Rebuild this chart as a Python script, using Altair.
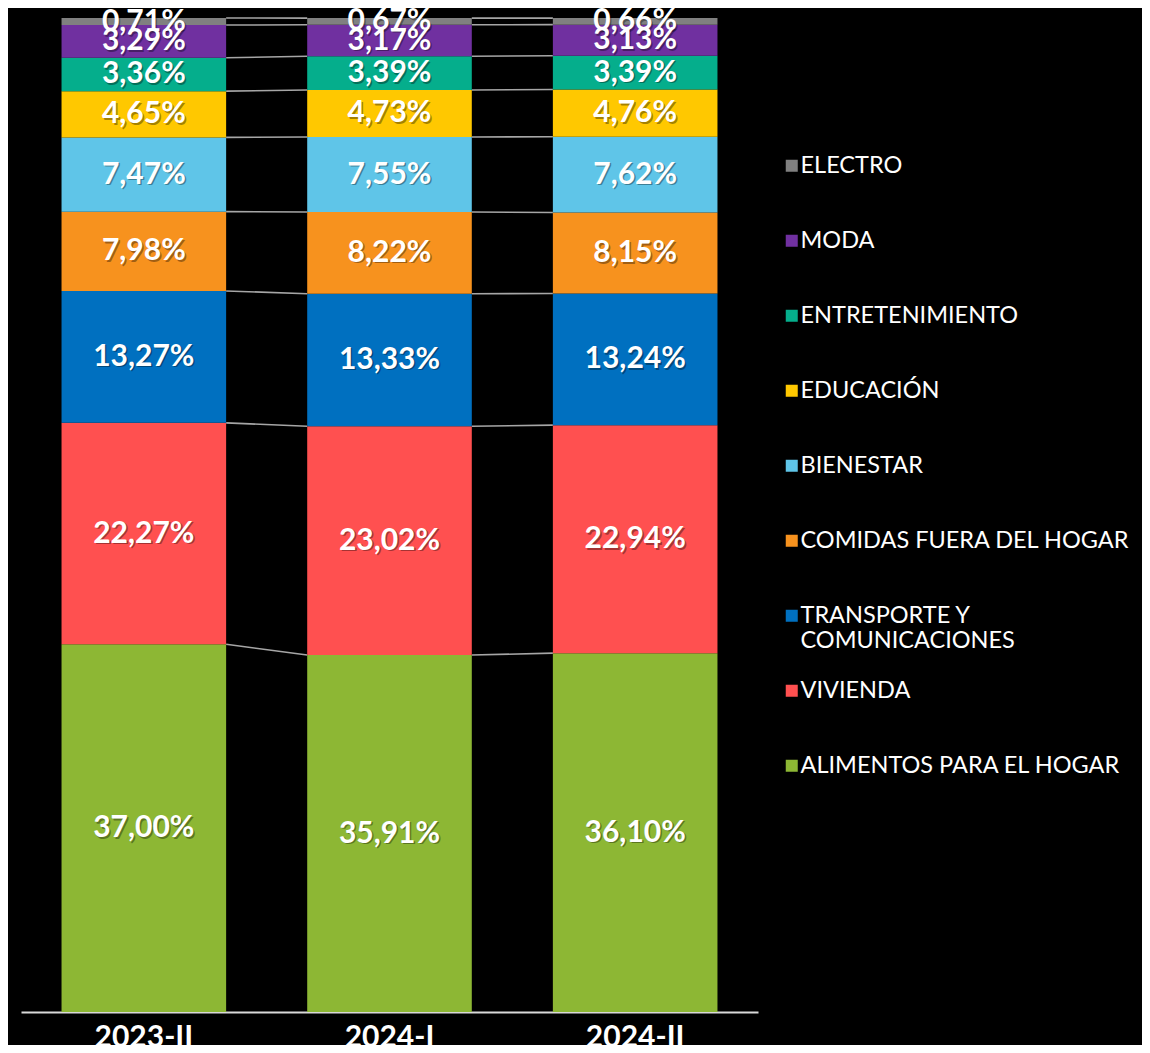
import altair as alt
import pandas as pd

periods = ["2023-II", "2024-I", "2024-II"]
categories = [
    "ALIMENTOS PARA EL HOGAR",
    "VIVIENDA",
    "TRANSPORTE Y COMUNICACIONES",
    "COMIDAS FUERA DEL HOGAR",
    "BIENESTAR",
    "EDUCACIÓN",
    "ENTRETENIMIENTO",
    "MODA",
    "ELECTRO",
]
values_2023_II = [37.00, 22.27, 13.27, 7.98, 7.47, 4.65, 3.36, 3.29, 0.71]
values_2024_I = [35.91, 23.02, 13.33, 8.22, 7.55, 4.73, 3.39, 3.17, 0.67]
values_2024_II = [36.10, 22.94, 13.24, 8.15, 7.62, 4.76, 3.39, 3.13, 0.66]
colors = ["#8db734", "#ff5050", "#0070c0", "#f7921e", "#5fc5e8",
          "#ffc800", "#05ae8c", "#7030a0", "#808080"]

series = [values_2023_II, values_2024_I, values_2024_II]

rows = []
cums = []
for p, vals in zip(periods, series):
    c = 0.0
    cum = []
    for k, (cat, v) in enumerate(zip(categories, vals)):
        rows.append({
            "period": p, "category": cat, "value": v, "order": k,
            "y0": c, "y1": c + v, "mid": c + v / 2,
            "label": f"{v:.2f}".replace(".", ",") + "%",
        })
        c += v
        cum.append(c)
    cums.append(cum)
df = pd.DataFrame(rows)

links = []
for i in range(len(periods) - 1):
    for k in range(len(categories)):
        links.append({"from": periods[i], "to": periods[i + 1],
                      "ya": cums[i][k], "yb": cums[i + 1][k]})
df_links = pd.DataFrame(links)

xscale = alt.Scale(domain=periods, paddingInner=0.33, paddingOuter=0.165)
yscale = alt.Scale(domain=[0, 100])

xaxis = alt.Axis(labelAngle=0, labelAlign="center", labelBaseline="top",
                 labelColor="white", labelFont="Lato", labelFontWeight="bold",
                 labelFontSize=30, labelPadding=10, ticks=False,
                 domainColor="#d9d9d9", domainWidth=2, grid=False)

legend_domain = categories[::-1]
legend_range = colors[::-1]

bars = alt.Chart(df).mark_bar(strokeWidth=0).encode(
    x=alt.X("period:N", sort=periods, scale=xscale, title=None, axis=xaxis),
    y=alt.Y("y0:Q", scale=yscale, axis=None),
    y2="y1:Q",
    color=alt.Color(
        "category:N",
        scale=alt.Scale(domain=legend_domain, range=legend_range),
        legend=alt.Legend(
            title=None, orient="none", legendX=759, legendY=136,
            symbolType="square", symbolSize=144, symbolStrokeWidth=0,
            labelColor="white", labelFont="Lato", labelFontSize=23.5,
            labelOffset={"expr": "-3"}, rowPadding=25, labelLimit=400,
            labelExpr="datum.label == 'TRANSPORTE Y COMUNICACIONES' ? ['TRANSPORTE Y', 'COMUNICACIONES'] : [datum.label, '']",
        ),
    ),
)

rules = alt.Chart(df_links).mark_rule(color="#a6a6a6", strokeWidth=1.6).encode(
    x=alt.X("from:N", sort=periods, scale=xscale, bandPosition=1, title=None,
            axis=xaxis),
    x2=alt.X2("to:N", bandPosition=0),
    y=alt.Y("ya:Q", scale=yscale, axis=None),
    y2="yb:Q",
)

shadow = alt.Chart(df).mark_text(
    font="Lato", fontWeight="bold", fontSize=30, color="black",
    opacity=0.35, dx=1.5, dy=1.5, baseline="middle",
).encode(
    x=alt.X("period:N", sort=periods, scale=xscale, title=None, axis=xaxis),
    y=alt.Y("mid:Q", scale=yscale, axis=None),
    text="label:N",
)

labels = alt.Chart(df).mark_text(
    font="Lato", fontWeight="bold", fontSize=30, color="white",
    baseline="middle",
).encode(
    x=alt.X("period:N", sort=periods, scale=xscale, title=None, axis=xaxis),
    y=alt.Y("mid:Q", scale=yscale, axis=None),
    text="label:N",
)

chart = alt.layer(rules, bars, shadow, labels).properties(
    width=737, height=994, background="black",
    autosize=alt.AutoSizeParams(type="none"),
    padding={"left": 13, "top": 10, "right": 384, "bottom": 33},
).configure_view(stroke=None)

chart.save("out.html", embed_options={"renderer": "svg", "actions": False})
